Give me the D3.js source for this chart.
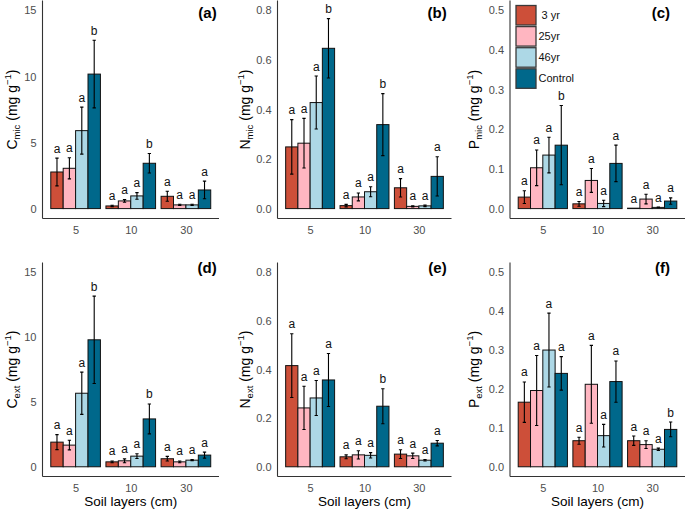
<!DOCTYPE html>
<html><head><meta charset="utf-8">
<script src="https://cdn.jsdelivr.net/npm/d3@7"></script>
<style>
body{margin:0;background:#fff;}
svg{display:block;font-family:"Liberation Sans",Arial,sans-serif;}
</style>
</head><body>
<svg id="chart" width="685" height="511"></svg>
<script>
// ---------- data ----------
const layers = ["5", "10", "30"];
const treatments = [" 3 yr", "25yr", "46yr", "Control"];
const colors = ["#CD4F39", "#FFB6C1", "#ADD8E6", "#00688B"];

// each row = one treatment, values at layers 5, 10, 30 cm
const cmicMean = [[2.77, 0.20, 0.93], [3.05, 0.58, 0.28], [5.90, 0.96, 0.28], [10.18, 3.43, 1.41]];
const cmicSe   = [[1.05, 0.05, 0.38], [0.80, 0.10, 0.05], [1.78, 0.25, 0.05], [2.56, 0.74, 0.67]];
const cmicLet  = [["a","a","a"], ["a","a","a"], ["a","a","a"], ["b","b","a"]];

const nmicMean = [[0.249, 0.012, 0.084], [0.264, 0.047, 0.009], [0.428, 0.068, 0.011], [0.647, 0.339, 0.130]];
const nmicSe   = [[0.110, 0.005, 0.037], [0.100, 0.016, 0.002], [0.107, 0.020, 0.003], [0.120, 0.125, 0.079]];
const nmicLet  = [["a","a","a"], ["a","a","a"], ["a","a","a"], ["b","b","a"]];

const pmicMean = [[0.029, 0.012, 0.001], [0.103, 0.071, 0.024], [0.135, 0.013, 0.003], [0.160, 0.114, 0.019]];
const pmicSe   = [[0.016, 0.006, 0.000], [0.045, 0.030, 0.012], [0.045, 0.008, 0.001], [0.100, 0.046, 0.008]];
const pmicLet  = [["a","a","a"], ["a","a","a"], ["a","a","a"], ["b","a","a"]];

const cextMean = [[1.90, 0.38, 0.62], [1.67, 0.46, 0.38], [5.67, 0.82, 0.51], [9.79, 3.69, 0.90]];
const cextSe   = [[0.58, 0.07, 0.18], [0.37, 0.15, 0.07], [1.63, 0.18, 0.04], [3.37, 1.15, 0.23]];
const cextLet  = [["a","a","a"], ["a","a","a"], ["a","a","a"], ["b","b","a"]];

const nextMean = [[0.416, 0.041, 0.052], [0.242, 0.049, 0.045], [0.283, 0.047, 0.027], [0.357, 0.249, 0.097]];
const nextSe   = [[0.131, 0.008, 0.018], [0.089, 0.017, 0.011], [0.072, 0.011, 0.003], [0.109, 0.072, 0.011]];
const nextLet  = [["a","a","a"], ["a","a","a"], ["a","a","a"], ["a","b","a"]];

const pextMean = [[0.166, 0.067, 0.067], [0.196, 0.212, 0.057], [0.300, 0.080, 0.045], [0.240, 0.219, 0.096]];
const pextSe   = [[0.052, 0.009, 0.012], [0.090, 0.100, 0.010], [0.095, 0.029, 0.003], [0.043, 0.053, 0.019]];
const pextLet  = [["a","a","a"], ["a","a","a"], ["a","a","a"], ["a","a","b"]];

const cTicks = [0, 5, 10, 15];
const nTicks = [0, 0.2, 0.4, 0.6, 0.8];
const pTicks = [0, 0.1, 0.2, 0.3, 0.4, 0.5];

const panels = [
  {tag:"(a)", el:"C", sub:"mic", mean:cmicMean, se:cmicSe, let:cmicLet, ticks:cTicks, fmt:d3.format("d"),   row:0, col:0},
  {tag:"(b)", el:"N", sub:"mic", mean:nmicMean, se:nmicSe, let:nmicLet, ticks:nTicks, fmt:d3.format(".1f"), row:0, col:1},
  {tag:"(c)", el:"P", sub:"mic", mean:pmicMean, se:pmicSe, let:pmicLet, ticks:pTicks, fmt:d3.format(".1f"), row:0, col:2, legend:true},
  {tag:"(d)", el:"C", sub:"ext", mean:cextMean, se:cextSe, let:cextLet, ticks:cTicks, fmt:d3.format("d"),   row:1, col:0},
  {tag:"(e)", el:"N", sub:"ext", mean:nextMean, se:nextSe, let:nextLet, ticks:nTicks, fmt:d3.format(".1f"), row:1, col:1},
  {tag:"(f)", el:"P", sub:"ext", mean:pextMean, se:pextSe, let:pextLet, ticks:pTicks, fmt:d3.format(".1f"), row:1, col:2}
];

// ---------- layout ----------
const colX = [[42.5, 219], [277.5, 451.5], [510, 685]];
const rowY = [[218.5, 0.5], [476.5, 262.5]];
const titleX = [16.5, 249.5, 478.5];
const tagX = [216.7, 446.7, 670];
const tagY = [18, 272.7];

const svg = d3.select("#chart");
const barW = 0.225;

panels.forEach(p => {
  const [x0, x1] = colX[p.col];
  const [yb, yt] = rowY[p.row];
  const ymax = p.ticks[p.ticks.length - 1];
  const x = d3.scaleLinear().domain([0.4, 3.6]).range([x0, x1]);
  const y = d3.scaleLinear().domain([-0.05 * ymax, 1.05 * ymax]).range([yb, yt]);
  const g = svg.append("g");

  const recs = [];
  treatments.forEach((t, i) => layers.forEach((l, j) => {
    recs.push({i, j, m: p.mean[i][j], s: p.se[i][j], lt: p.let[i][j], cx: (j + 1) + (i - 1.5) * barW});
  }));

  g.selectAll("rect.bar").data(recs).join("rect")
    .attr("class", "bar")
    .attr("x", d => x(d.cx - barW / 2))
    .attr("width", d => x(d.cx + barW / 2) - x(d.cx - barW / 2))
    .attr("y", d => y(d.m))
    .attr("height", d => Math.max(0, y(0) - y(d.m)))
    .attr("fill", d => colors[d.i])
    .attr("stroke", "#111").attr("stroke-width", 1);

  const eb = recs.filter(d => d.s > 0);
  const capW = 0.03;
  g.selectAll("path.err").data(eb).join("path")
    .attr("class", "err")
    .attr("d", d => {
      const xl = x(d.cx - capW), xr = x(d.cx + capW), xc = x(d.cx);
      const ylo = y(d.m - d.s), yhi = y(d.m + d.s);
      return `M${xc},${ylo}V${yhi}M${xl},${yhi}H${xr}M${xl},${ylo}H${xr}`;
    })
    .attr("fill", "none").attr("stroke", "#000").attr("stroke-width", 1.1);

  g.selectAll("text.let").data(recs).join("text")
    .attr("class", "let")
    .attr("x", d => x(d.cx))
    .attr("y", d => y(d.m + d.s) - 5.5)
    .attr("text-anchor", "middle")
    .attr("font-size", 12)
    .attr("fill", "#111")
    .text(d => d.lt);

  // axes
  const ya = g.append("g").attr("transform", `translate(${x0},0)`)
    .call(d3.axisLeft(y).tickValues(p.ticks).tickFormat(p.fmt).tickSize(0).tickPadding(6));
  ya.select(".domain").attr("d", `M0,${yt}V${yb}`).attr("stroke", "#333").attr("stroke-width", 1.1);
  ya.selectAll("text").attr("font-size", 11).attr("fill", "#4D4D4D").attr("font-family", null);

  const xa = g.append("g").attr("transform", `translate(0,${yb})`)
    .call(d3.axisBottom(x).tickValues([1, 2, 3]).tickFormat(d => layers[d - 1]).tickSize(0).tickPadding(8));
  xa.select(".domain").attr("d", `M${x0},0H${x1}`).attr("stroke", "#333").attr("stroke-width", 1.1);
  xa.selectAll("text").attr("font-size", 11).attr("fill", "#4D4D4D").attr("font-family", null);

  // y title
  const yc = (yb + yt) / 2;
  const tt = g.append("text")
    .attr("transform", `translate(${titleX[p.col]},${yc}) rotate(-90)`)
    .attr("text-anchor", "middle").attr("font-size", 14).attr("fill", "#000");
  tt.append("tspan").text(p.el);
  tt.append("tspan").attr("font-size", 9.5).attr("dy", 3).text(p.sub);
  tt.append("tspan").attr("dy", -3).text(" (mg g");
  tt.append("tspan").attr("font-size", 9.5).attr("dy", -5.5).text("\u22121");
  tt.append("tspan").attr("dy", 5.5).text(")");

  // tag
  g.append("text").attr("x", tagX[p.col]).attr("y", tagY[p.row])
    .attr("text-anchor", "end").attr("font-size", 15).attr("font-weight", "bold")
    .text(p.tag);

  if (p.row === 1) {
    g.append("text").attr("x", (x0 + x1) / 2).attr("y", 506)
      .attr("text-anchor", "middle").attr("font-size", 13.5).text("Soil layers (cm)");
  }

  if (p.legend) {
    const lg = g.append("g").attr("transform", "translate(516,5.5)");
    const items = lg.selectAll("g").data(treatments).join("g")
      .attr("transform", (d, i) => `translate(0,${i * 21.1})`);
    items.append("rect").attr("width", 20).attr("height", 19.5)
      .attr("fill", (d, i) => colors[i]).attr("stroke", "#3a3a3a").attr("stroke-width", 1.3);
    items.append("text").attr("x", 22.5).attr("y", 9.75).attr("dy", "0.35em")
      .attr("font-size", 11).attr("fill", "#111").style("white-space", "pre")
      .text(d => d);
  }
});
</script>
</body></html>
